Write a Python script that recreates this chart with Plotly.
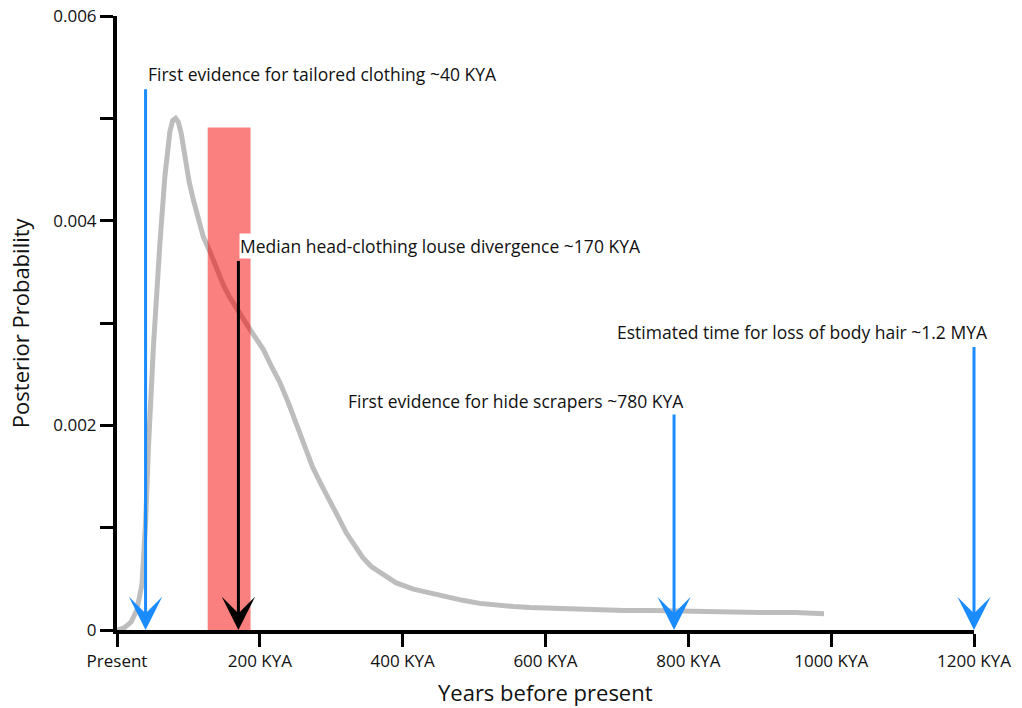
import plotly.graph_objects as go

# ---- data ----
years_kya = [0, 10, 20, 28, 35, 40, 44, 51, 60, 67, 74, 78, 82, 86, 90, 95, 101, 107, 114, 121,
             130, 140, 149, 158, 167, 176, 186, 195, 205, 216, 228, 240, 251, 262, 274, 286, 298,
             310, 321, 333, 344, 356, 368, 380, 391, 415, 438, 461, 484, 508, 531, 555, 578, 610,
             640, 675, 710, 750, 800, 850, 900, 950, 990]
posterior = [0.0, 0.00002, 0.00008, 0.0002, 0.00045, 0.00105, 0.00178, 0.00277, 0.00377, 0.00443,
             0.00487, 0.00498, 0.00500, 0.00496, 0.00485, 0.0046, 0.00438, 0.0042, 0.00400, 0.00384,
             0.0037, 0.00353, 0.00337, 0.00325, 0.00314, 0.00305, 0.00294, 0.00285, 0.00274, 0.00258,
             0.00242, 0.00222, 0.00202, 0.00180, 0.00159, 0.00142, 0.00127, 0.00110, 0.00095, 0.00082,
             0.00071, 0.00062, 0.00056, 0.00050, 0.00046, 0.00040, 0.00036, 0.00032, 0.00029, 0.00026,
             0.00024, 0.00023, 0.00022, 0.00021, 0.00021, 0.00020, 0.00019, 0.00019, 0.00018, 0.00018,
             0.00017, 0.00017, 0.00016]

band_kya = [127, 187]
band_top = 0.00491

x_tickvals = [0, 200, 400, 600, 800, 1000, 1200]
x_ticktext = ["Present", "200 KYA", "400 KYA", "600 KYA", "800 KYA", "1000 KYA", "1200 KYA"]
y_tickvals = [0, 0.001, 0.002, 0.003, 0.004, 0.005, 0.006]
y_ticktext = ["0", "", "0.002", "", "0.004", "", "0.006"]

event_kya = [40, 780, 1200]
event_top = [0.0053, 0.00212, 0.00278]
event_text = ["First evidence for tailored clothing ~40 KYA",
              "First evidence for hide scrapers ~780 KYA",
              "Estimated time for loss of body hair ~1.2 MYA"]
event_text_x = [40, 780, 1200]
event_text_shift = [0, 12, 16]
event_text_y = [0.00543, 0.00224, 0.00291]
event_anchor = ["left", "right", "right"]

median_kya = 170
median_top = 0.00362
median_text = "Median head-clothing louse divergence ~170 KYA"
median_text_x = 170
median_text_y = 0.00375

FONT = "Open Sans"
BLUE = "#1a8cff"

fig = go.Figure()
fig.add_trace(go.Scatter(x=years_kya, y=posterior, mode="lines",
                         line=dict(color="#bdbdbd", width=5),
                         hoverinfo="skip", showlegend=False))

fig.add_shape(type="rect", xref="x", yref="y", x0=band_kya[0], x1=band_kya[1], y0=0, y1=band_top,
              fillcolor="rgba(245,0,0,0.5)", line=dict(width=0), layer="above")

annotations = []
for xk, yt in zip(event_kya, event_top):
    annotations.append(dict(x=xk, y=0, xref="x", yref="y", ax=xk, ay=yt, axref="x", ayref="y",
                            text="", showarrow=True, arrowhead=3, arrowsize=1.85, arrowwidth=3,
                            arrowcolor=BLUE, standoff=0))
for t, tx, sh, ty, anc in zip(event_text, event_text_x, event_text_shift, event_text_y, event_anchor):
    annotations.append(dict(x=tx, y=ty, xref="x", yref="y", text=t, showarrow=False,
                            xanchor=anc, yanchor="middle", xshift=sh,
                            font=dict(family=FONT, size=17.5, color="#111")))
annotations.append(dict(x=median_kya, y=0, xref="x", yref="y", ax=median_kya, ay=median_top,
                        axref="x", ayref="y", text="", showarrow=True, arrowhead=3, arrowsize=1.85,
                        arrowwidth=3, arrowcolor="black", standoff=0))
annotations.append(dict(x=median_text_x, y=median_text_y, xref="x", yref="y", text=median_text,
                        showarrow=False, xanchor="left", yanchor="middle", bgcolor="white",
                        borderpad=0, xshift=1, font=dict(family=FONT, size=17.5, color="#111")))
annotations.append(dict(x=0.5, y=-0.101, xref="paper", yref="paper", text="Years before present",
                        showarrow=False, xanchor="center", yanchor="middle",
                        font=dict(family=FONT, size=22, color="#111")))
annotations.append(dict(x=-0.113, y=0.5, xref="paper", yref="paper", text="Posterior Probability",
                        showarrow=False, textangle=-90, xanchor="center", yanchor="middle",
                        font=dict(family=FONT, size=22, color="#111")))

fig.update_layout(
    width=1022, height=708,
    margin=dict(l=117, r=48, t=16, b=78, autoexpand=False),
    paper_bgcolor="white", plot_bgcolor="white",
    annotations=annotations,
    font=dict(family=FONT, color="#111"),
    showlegend=False,
)
fig.update_xaxes(range=[0, 1200], tickvals=x_tickvals, ticktext=x_ticktext, automargin=False,
                 showline=True, linecolor="black", linewidth=4, ticks="outside", ticklen=13,
                 tickwidth=3, tickcolor="black", showgrid=False, zeroline=False,
                 tickfont=dict(family=FONT, size=17, color="#111"))
fig.update_yaxes(range=[0, 0.006], tickvals=y_tickvals, ticktext=y_ticktext, automargin=False,
                 showline=True, linecolor="black", linewidth=4, ticks="outside", ticklen=13,
                 tickwidth=3, tickcolor="black", showgrid=False, zeroline=False,
                 tickfont=dict(family=FONT, size=17, color="#111"))

fig.write_html("out.html", config={"displayModeBar": False},
               post_script="document.body.style.margin='0px';document.body.style.overflow='hidden';")
